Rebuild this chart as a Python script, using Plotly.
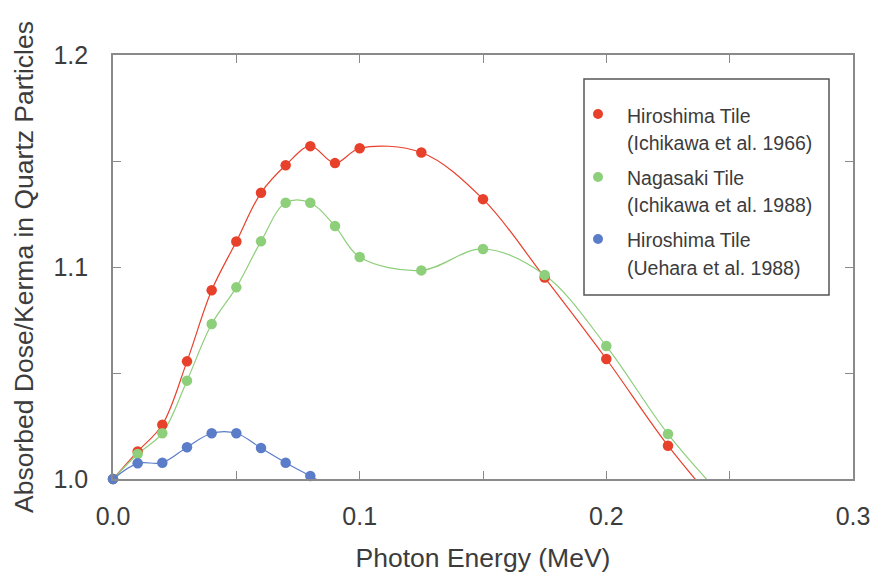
import plotly.graph_objects as go

# ---------------- data ----------------
energy_ichikawa = [0.0, 0.01, 0.02, 0.03, 0.04, 0.05, 0.06, 0.07, 0.08, 0.09,
                   0.10, 0.125, 0.15, 0.175, 0.20, 0.225, 0.25]
hiroshima_1966 = [1.000, 1.013, 1.0256, 1.0555, 1.089, 1.112, 1.135, 1.148, 1.157, 1.149,
                  1.156, 1.154, 1.132, 1.095, 1.0566, 1.0157, 0.981]
nagasaki_1988 = [1.000, 1.0118, 1.0216, 1.0464, 1.0731, 1.0904, 1.1121, 1.1303, 1.1303, 1.1193,
                 1.1047, 1.0984, 1.1085, 1.0962, 1.0627, 1.0212, 0.988]
energy_uehara = [0.0, 0.01, 0.02, 0.03, 0.04, 0.05, 0.06, 0.07, 0.08, 0.09]
hiroshima_uehara = [1.000, 1.0074, 1.0077, 1.015, 1.0216, 1.0216, 1.0146, 1.0077, 1.0014, 0.995]

series_names = ["Hiroshima Tile", "Nagasaki Tile", "Hiroshima Tile"]
series_refs = ["(Ichikawa et al. 1966)", "(Ichikawa et al. 1988)", "(Uehara et al. 1988)"]
colors = ["#e8412b", "#8ecf7b", "#5b7dc9"]

x_tickvals = [0.0, 0.05, 0.1, 0.15, 0.2, 0.25, 0.3]
x_ticktext = ["0.0", "", "0.1", "", "0.2", "", "0.3"]
y_tickvals = [1.0, 1.05, 1.1, 1.15, 1.2]
y_ticktext = ["1.0", "", "1.1", "", "1.2"]

Y_MIN, Y_MAX = 1.0, 1.2
FONT = "Liberation Sans, Arial, Helvetica, sans-serif"
TXT = "#3c3c3c"
FRAME = "#8a8a8a"

fig = go.Figure()
datasets = [(energy_ichikawa, hiroshima_1966), (energy_ichikawa, nagasaki_1988),
            (energy_uehara, hiroshima_uehara)]

for (xs, ys), col in zip(datasets, colors):
    fig.add_trace(go.Scatter(x=xs, y=ys, mode="lines",
                             line=dict(color=col, width=1.2, shape="spline", smoothing=1.0),
                             showlegend=False, hoverinfo="skip"))
for (xs, ys), col in zip(datasets, colors):
    px = [x for x, y in zip(xs, ys) if Y_MIN - 1e-9 <= y <= Y_MAX]
    py = [y for y in ys if Y_MIN - 1e-9 <= y <= Y_MAX]
    fig.add_trace(go.Scatter(x=px, y=py, mode="markers", cliponaxis=False,
                             marker=dict(color=col, size=10.5, line=dict(width=0)),
                             showlegend=False))

# ---------------- legend (manual box) ----------------
L, T, W, H = 113, 55, 740, 424  # plot area in px


def pxx(x):
    return (x - L) / W


def pxy(y):
    return (T + H - y) / H


shapes = [dict(type="rect", xref="paper", yref="paper",
               x0=pxx(584), x1=pxx(829), y0=pxy(295), y1=pxy(79),
               line=dict(color="#555555", width=1.5), fillcolor="white", layer="below")]
annotations = []
marker_rows = [114, 177, 239]
text_rows = [(116, 143), (178, 205), (240, 268)]
for i in range(3):
    shapes.append(dict(type="circle", xref="paper", yref="paper",
                       xsizemode="pixel", ysizemode="pixel",
                       xanchor=pxx(598), yanchor=pxy(marker_rows[i]),
                       x0=-5, x1=5, y0=-5, y1=5,
                       fillcolor=colors[i], line=dict(width=0)))
    for txt, yy in zip((series_names[i], series_refs[i]), text_rows[i]):
        annotations.append(dict(xref="paper", yref="paper", x=pxx(625), y=pxy(yy),
                                xanchor="left", yanchor="middle", showarrow=False,
                                text=txt, font=dict(family=FONT, size=19.5, color=TXT)))

fig.update_layout(
    width=873, height=574,
    margin=dict(l=L, r=873 - L - W, t=T, b=574 - T - H),
    paper_bgcolor="white", plot_bgcolor="white",
    font=dict(family=FONT, color=TXT),
    shapes=shapes, annotations=annotations, showlegend=False,
    xaxis=dict(range=[0, 0.3], tickvals=x_tickvals, ticktext=x_ticktext,
               ticks="inside", ticklen=8, tickwidth=1.3, tickcolor=FRAME,
               showline=True, linecolor=FRAME, linewidth=1.6, mirror="ticks",
               showgrid=False, zeroline=False, automargin=False,
               tickfont=dict(family=FONT, size=25, color=TXT), ticklabelstandoff=14,
               title=dict(text="Photon Energy (MeV)", standoff=20,
                          font=dict(family=FONT, size=26.5, color=TXT))),
    yaxis=dict(range=[Y_MIN, Y_MAX], tickvals=y_tickvals, ticktext=y_ticktext,
               ticks="inside", ticklen=8, tickwidth=1.3, tickcolor=FRAME,
               showline=True, linecolor=FRAME, linewidth=1.6, mirror="ticks",
               showgrid=False, zeroline=False, automargin=False,
               tickfont=dict(family=FONT, size=25, color=TXT), ticklabelstandoff=18,
               title=dict(text="Absorbed Dose/Kerma in Quartz Particles", standoff=12,
                          font=dict(family=FONT, size=26.5, color=TXT))),
)

fig.write_html("out.html", config={"displayModeBar": False},
               post_script="document.body.style.margin='0';document.body.style.overflow='hidden';")
